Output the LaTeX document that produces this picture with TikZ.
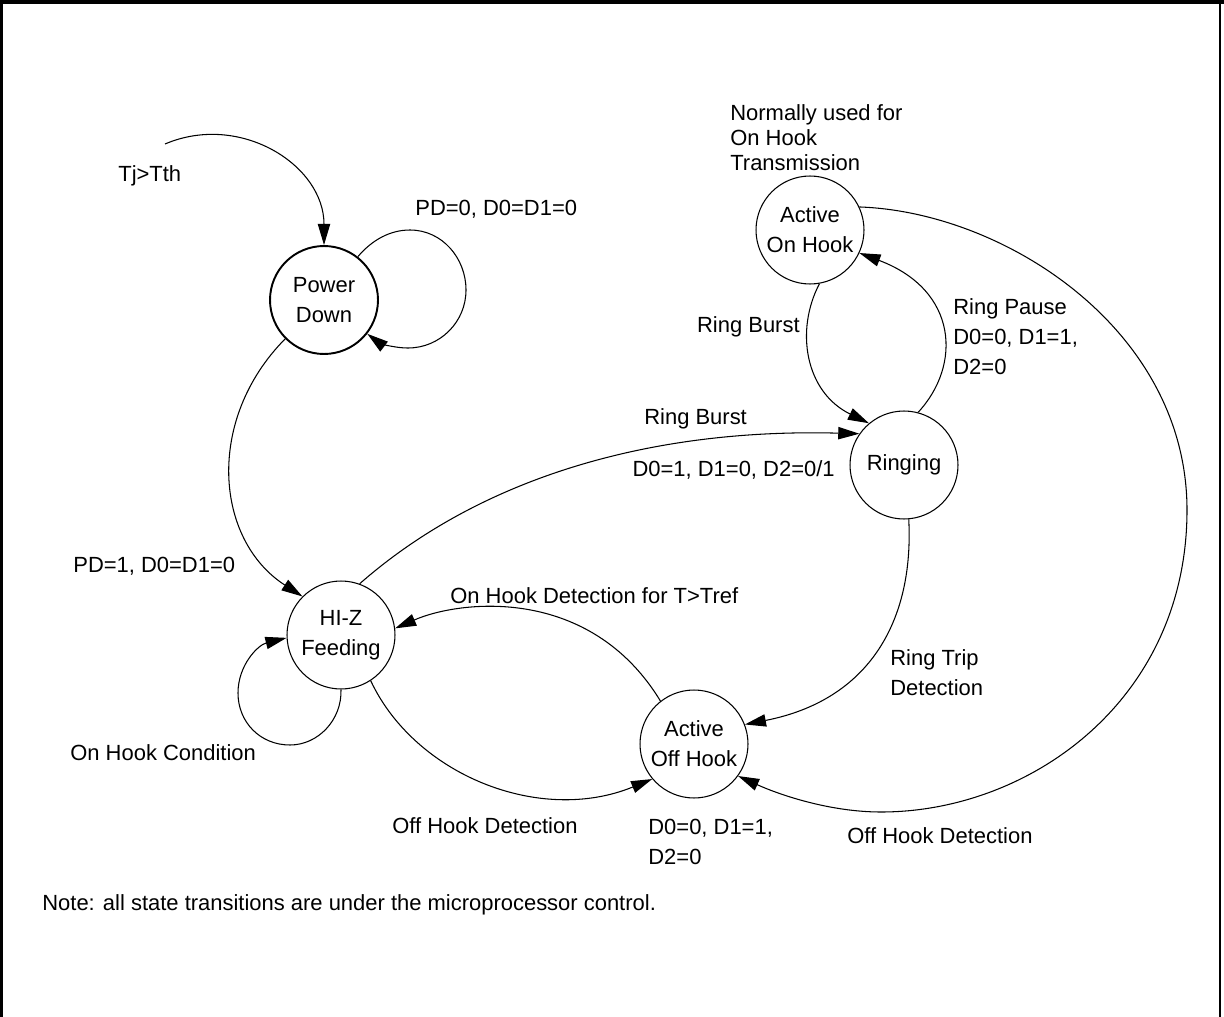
\documentclass[tikz,border=0pt]{standalone}
\usepackage{fontspec}
\setmainfont{Liberation Sans}
\usetikzlibrary{arrows.meta}
\usetikzlibrary{calc}
\usetikzlibrary{positioning}
\tikzstyle{state} = [draw, circle, minimum size=2.16cm, inner sep=0pt,
    align=center, line width=0.6pt]
\tikzstyle{txt} = [inner sep=0pt, align=left]
\tikzstyle{trans} = [->, line width=0.6pt]

\begin{document}
\begin{tikzpicture}[x=0.02cm, y=0.02cm, >={Triangle[length=12pt,width=7pt]},
    font=\fontsize{12.5}{17}\selectfont]

    \useasboundingbox (0,0) rectangle (1224,-1017);
    % frame, open at the bottom
    \draw[line width=1.4pt] (1.3,-1017) -- (1.3,-2);
    \draw[line width=1.4pt] (1220,-1017) -- (1220,-2);
    \draw[line width=2.3pt] (0,-2) -- (1224,-2);

    % states
    \node[state, line width=1.1pt] (pd) at (324,-300) {Power\\Down};
    \node[state] (aoh) at (810,-230) {Active\\On Hook};
    \node[state] (rg) at (904,-465) {Ringing};
    \node[state] (hz) at (341,-635) {HI-Z\\Feeding};
    \node[state] (aof) at (694,-744) {Active\\Off Hook};

    % power down
    \coordinate (tj) at (165,-144);
    \draw[trans] (tj) .. controls (240,-112) and (324,-165) .. (pd.north);
    \node[txt, anchor=west] at (118,-176) {Tj>Tth};
    \draw[trans] (pd.52) .. controls (372,-240) and (390,-230) .. (410,-230)
        .. controls (442,-230) and (466,-258) .. (466,-290)
        .. controls (466,-322) and (440,-348) .. (408,-348)
        .. controls (392,-348) and (378,-342) .. (pd.-38);
    \node[txt, anchor=west] at (415,-209) {PD=0, D0=D1=0};
    \draw[trans] (pd.-135) .. controls (205,-420) and (215,-540) .. (hz.135);
    \node[txt, anchor=west] at (73,-566) {PD=1, D0=D1=0};

    % on hook / ringing
    \node[txt, anchor=north west, font=\fontsize{12.5}{14.2}\selectfont] at (730,-104)
        {Normally used for\\On Hook\\Transmission};
    \draw[trans] (aoh.-80) .. controls (795,-330) and (805,-392) .. (rg.130);
    \node[txt, anchor=east] at (800,-327) {Ring Burst};
    \draw[trans] (rg.75) .. controls (962,-365) and (958,-290) .. (aoh.-25);
    \node[txt, anchor=north west] at (953,-298) {Ring Pause\\D0=0, D1=1,\\D2=0};
    \draw[trans] (hz.70) .. controls (480,-478) and (650,-428) .. (rg.145);
    \node[txt, anchor=west] at (644,-419) {Ring Burst};
    \node[txt, anchor=east] at (835,-470) {D0=1, D1=0, D2=0/1};

    % off hook
    \draw[trans] (rg.-85) .. controls (914,-620) and (870,-700) .. (aof.21);
    \node[txt, anchor=north west] at (890,-649) {Ring Trip\\Detection};
    \draw[trans] (aoh.25) .. controls (1005,-212) and (1187,-330) .. (1187,-510)
        .. controls (1187,-700) and (1030,-812) .. (881,-812)
        .. controls (830,-812) and (780,-795) .. (aof.-36);
    \node[txt, anchor=west] at (847,-836) {Off Hook Detection};
    \draw[trans] (aof.128) .. controls (590,-585) and (460,-600) .. (hz.7);
    \node[txt, anchor=west] at (450,-596) {On Hook Detection for T>Tref};
    \draw[trans] (hz.-57) .. controls (415,-775) and (540,-825) .. (aof.-140);
    \node[txt, anchor=west] at (392,-826) {Off Hook Detection};
    \node[txt, anchor=north west] at (648,-819) {D0=0, D1=1,\\D2=0};

    % hi-z loop
    \draw[trans] (hz.south) .. controls (342,-720) and (318,-745) .. (290,-745)
        .. controls (260,-745) and (238,-722) .. (238,-693)
        .. controls (238,-665) and (258,-645) .. (hz.183);
    \node[txt, anchor=west] at (70,-753) {On Hook Condition};

    \node[txt, anchor=west] at (42,-905)
        {Note: all state transitions are under the microprocessor control.};
\end{tikzpicture}
\end{document}
